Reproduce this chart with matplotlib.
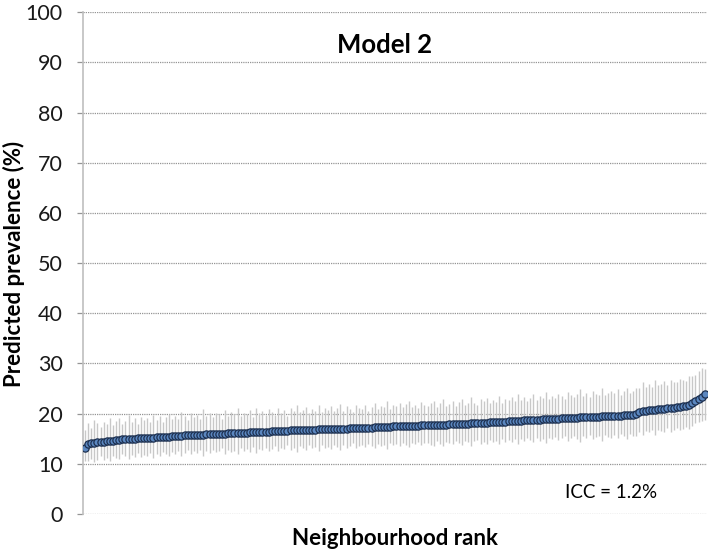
#!/usr/bin/env python3
# -*- coding: utf-8 -*-
#------------------------------------------------------------------------------
# Predicted prevalence by neighbourhood rank (Model 2) with 95% intervals
#------------------------------------------------------------------------------
import numpy as np
import matplotlib
matplotlib.use('agg')
import matplotlib.pyplot as plt

#------------------------------------------------------------------------------
# DATA
#------------------------------------------------------------------------------
prevalence = [
    13.1, 14.0, 14.1, 14.2, 14.3, 14.35, 14.4, 14.5, 14.55, 14.6,
    14.7, 14.8, 14.85, 14.9, 14.95, 15.0, 15.0, 15.05, 15.1, 15.1,
    15.15, 15.2, 15.2, 15.25, 15.3, 15.35, 15.4, 15.4, 15.45, 15.5,
    15.55, 15.6, 15.65, 15.7, 15.72, 15.75, 15.78, 15.8, 15.83, 15.86,
    15.89, 15.92, 15.95, 15.98, 16.0, 16.03, 16.06, 16.08, 16.1, 16.13,
    16.16, 16.19, 16.22, 16.25, 16.28, 16.3, 16.33, 16.36, 16.39, 16.42,
    16.45, 16.48, 16.5, 16.53, 16.56, 16.6, 16.63, 16.66, 16.7, 16.72,
    16.74, 16.76, 16.78, 16.8, 16.82, 16.84, 16.86, 16.88, 16.9, 16.92,
    16.94, 16.96, 16.98, 17.0, 17.02, 17.05, 17.08, 17.1, 17.12, 17.15,
    17.18, 17.2, 17.22, 17.25, 17.28, 17.3, 17.33, 17.36, 17.4, 17.43,
    17.46, 17.5, 17.52, 17.54, 17.56, 17.58, 17.6, 17.62, 17.64, 17.66,
    17.68, 17.7, 17.72, 17.74, 17.76, 17.78, 17.8, 17.83, 17.86, 17.89,
    17.92, 17.95, 17.98, 18.0, 18.03, 18.06, 18.1, 18.13, 18.16, 18.2,
    18.23, 18.26, 18.3, 18.33, 18.36, 18.4, 18.45, 18.5, 18.53, 18.56,
    18.6, 18.63, 18.66, 18.7, 18.73, 18.76, 18.8, 18.83, 18.86, 18.9,
    18.93, 18.96, 19.0, 19.03, 19.06, 19.1, 19.13, 19.16, 19.2, 19.23,
    19.26, 19.3, 19.32, 19.35, 19.38, 19.4, 19.43, 19.46, 19.5, 19.52,
    19.55, 19.58, 19.6, 19.62, 19.65, 19.68, 19.7, 20.0, 20.4, 20.55,
    20.6, 20.65, 20.7, 20.8, 20.85, 20.9, 21.0, 21.05, 21.1, 21.2,
    21.3, 21.4, 21.5, 21.6, 21.8, 22.1, 22.6, 23.0, 23.4, 23.9,
]

# distance from estimate to upper / lower interval bound
err_up = [
    3.6, 4.2, 3.0, 4.5, 3.8, 2.9, 4.0, 3.4, 4.6, 3.2,
    3.9, 4.4, 3.1, 3.7, 4.8, 3.3, 4.1, 2.8, 4.3, 3.6,
    4.0, 3.2, 4.6, 3.5, 4.2, 3.0, 3.9, 4.5, 3.4, 4.1,
    3.3, 4.7, 3.8, 3.1, 4.4, 3.6, 4.0, 3.2, 5.0, 3.7,
    4.3, 3.4, 4.1, 3.9, 3.0, 4.6, 3.5, 4.2, 3.8, 4.9,
    3.3, 4.0, 3.6, 4.4, 3.1, 4.8, 3.7, 4.1, 3.4, 4.5,
    3.9, 3.2, 4.7, 3.6, 4.2, 3.0, 4.4, 3.8, 5.1, 3.5,
    4.0, 4.6, 3.3, 4.1, 3.7, 4.9, 3.4, 4.3, 3.8, 4.5,
    3.6, 4.2, 5.0, 3.5, 4.4, 3.9, 3.2, 4.7, 4.0, 3.7,
    4.5, 3.4, 4.1, 4.8, 3.6, 4.3, 3.9, 5.2, 3.5, 4.2,
    4.0, 4.6, 3.7, 4.4, 5.0, 3.8, 4.2, 3.5, 4.7, 4.1,
    3.9, 4.5, 4.8, 3.6, 4.3, 5.1, 3.8, 4.0, 4.6, 3.7,
    4.4, 4.9, 3.8, 4.2, 5.3, 4.0, 3.6, 4.7, 4.3, 5.0,
    3.9, 4.5, 4.1, 5.2, 3.8, 4.6, 4.3, 4.9, 4.0, 5.4,
    4.2, 4.7, 3.9, 4.4, 5.1, 4.0, 4.8, 4.3, 5.5, 4.1,
    4.6, 4.2, 5.0, 4.4, 3.9, 5.3, 4.5, 4.1, 4.8, 5.6,
    4.3, 4.9, 4.0, 5.2, 4.6, 4.4, 5.7, 4.2, 4.7, 5.0,
    4.5, 5.3, 4.1, 4.8, 5.5, 4.4, 4.9, 5.1, 4.6, 5.8,
    4.7, 5.2, 4.5, 5.9, 4.8, 5.0, 5.4, 4.6, 5.6, 5.1,
    4.9, 5.5, 5.2, 4.8, 5.7, 5.3, 5.0, 5.4, 5.6, 5.0,
]
err_lo = [
    2.6, 3.4, 3.2, 3.9, 3.5, 2.9, 3.7, 3.3, 4.0, 3.1,
    3.6, 3.9, 3.0, 3.4, 4.1, 3.2, 3.7, 2.9, 3.8, 3.3,
    3.6, 3.1, 4.0, 3.3, 3.7, 3.0, 3.5, 3.9, 3.2, 3.6,
    3.1, 4.1, 3.5, 3.0, 3.8, 3.3, 3.6, 3.1, 4.2, 3.4,
    3.8, 3.2, 3.6, 3.5, 2.9, 4.0, 3.3, 3.7, 3.5, 4.2,
    3.1, 3.6, 3.3, 3.9, 3.0, 4.1, 3.4, 3.7, 3.2, 3.9,
    3.5, 3.0, 4.0, 3.3, 3.7, 2.9, 3.8, 3.5, 4.3, 3.2,
    3.6, 4.0, 3.1, 3.7, 3.4, 4.2, 3.2, 3.8, 3.5, 3.9,
    3.3, 3.7, 4.3, 3.2, 3.8, 3.5, 3.0, 4.0, 3.6, 3.4,
    3.9, 3.2, 3.6, 4.1, 3.3, 3.8, 3.5, 4.4, 3.2, 3.7,
    3.6, 4.0, 3.4, 3.8, 4.3, 3.5, 3.7, 3.2, 4.0, 3.6,
    3.5, 3.9, 4.1, 3.3, 3.8, 4.3, 3.5, 3.6, 4.0, 3.4,
    3.8, 4.2, 3.5, 3.7, 4.5, 3.6, 3.3, 4.1, 3.8, 4.3,
    3.5, 3.9, 3.7, 4.4, 3.5, 4.0, 3.8, 4.2, 3.6, 4.6,
    3.7, 4.1, 3.5, 3.9, 4.4, 3.6, 4.2, 3.8, 4.7, 3.7,
    4.0, 3.7, 4.3, 3.9, 3.5, 4.5, 3.9, 3.6, 4.2, 4.8,
    3.8, 4.2, 3.6, 4.4, 4.0, 3.9, 4.8, 3.7, 4.1, 4.3,
    3.9, 4.5, 3.7, 4.1, 4.7, 3.8, 4.2, 4.4, 4.0, 4.9,
    4.1, 4.4, 3.9, 5.0, 4.2, 4.3, 4.6, 4.0, 4.8, 4.4,
    4.2, 4.7, 4.5, 4.2, 4.9, 4.6, 4.4, 4.7, 4.9, 5.2,
]

yticks = [0, 10, 20, 30, 40, 50, 60, 70, 80, 90, 100]
title_str = 'Model 2'
icc_str = 'ICC = 1.2%'

#------------------------------------------------------------------------------
# PLOT
#------------------------------------------------------------------------------
plt.rcParams['font.family'] = ['Lato', 'DejaVu Sans']

prevalence = np.array(prevalence)
rank = np.arange(len(prevalence))
yerr = np.vstack([err_lo, err_up])

fig = plt.figure(figsize=(7.16, 5.55), dpi=100)
ax = fig.add_axes([0.116, 0.074, 0.871, 0.904])

ax.errorbar(rank, prevalence, yerr=yerr, fmt='none', ecolor='#c8c8c8', elinewidth=1.0, capsize=0, zorder=2)
ax.plot(rank, prevalence, linestyle='none', marker='o', markersize=5.2,
        markerfacecolor='#5b87c0', markeredgecolor='#1c2f4f', markeredgewidth=0.9, zorder=3)

ax.set_xlim(-0.6, 199.6)
ax.set_ylim(0, 100)
ax.set_yticks(yticks)
ax.set_xticks([])

for yv in yticks:
    ax.axhline(yv, color='#959595', linewidth=0.9, linestyle=(0, (1, 0.8)), zorder=1)

for s in ['top', 'right', 'bottom']:
    ax.spines[s].set_visible(False)
ax.spines['left'].set_color('#bfbfbf')
ax.spines['left'].set_linewidth(1.2)

ax.tick_params(axis='y', direction='out', length=4.5, width=0.9, color='#959595', pad=10, labelsize=15.5, labelcolor='#1a1a1a')

# y label placed in figure pixels so it sits left of the tick labels
fig.text(14 / 716, 1 - 264 / 555, 'Predicted prevalence (%)', rotation=90, ha='center', va='center',
         fontsize=16, fontweight='bold')
ax.set_xlabel('Neighbourhood rank', fontsize=16, fontweight='bold', labelpad=10)

ax.text(0.484, 93.4, title_str, transform=ax.get_yaxis_transform(), ha='center', va='center', fontsize=18.5, fontweight='bold')
ax.text(0.846, 4.2, icc_str, transform=ax.get_yaxis_transform(), ha='center', va='center', fontsize=13.5)

plt.savefig('out.png', dpi=100)
plt.close('all')
print('** END')
